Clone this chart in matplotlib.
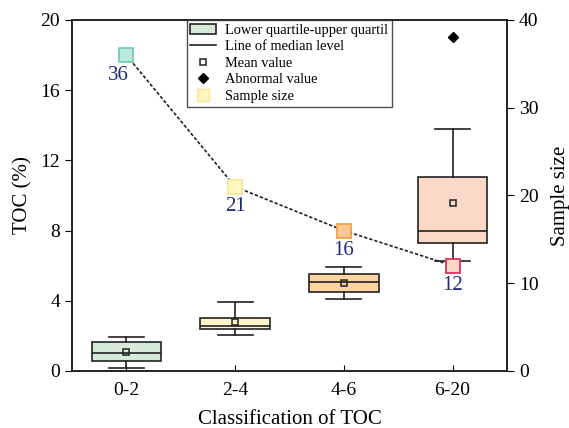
import matplotlib
matplotlib.use("Agg")
import matplotlib.pyplot as plt
from matplotlib.patches import Patch
from matplotlib.lines import Line2D

plt.rcParams['font.family'] = ['Liberation Serif', 'DejaVu Serif']

categories = ["0-2", "2-4", "4-6", "6-20"]
whisker_low = [0.17, 2.03, 4.08, 6.28]
q1 = [0.57, 2.39, 4.48, 7.28]
medians = [1.0, 2.58, 5.05, 7.99]
q3 = [1.63, 3.04, 5.53, 11.07]
whisker_high = [1.96, 3.93, 5.91, 13.77]
means = [1.08, 2.81, 5.0, 9.59]
outliers = [[], [], [], [19.05]]
sample_size = [36, 21, 16, 12]

box_colors = ["#d6ead8", "#fff4cc", "#fdd4a0", "#fad9c8"]
marker_fill = ["#b9e9dd", "#fff6c2", "#fcc890", "#fbd8c8"]
marker_edge = ["#76cbbb", "#f5e89a", "#f0a050", "#e03060"]

fig = plt.figure(figsize=(5.69, 4.28), dpi=100)
ax = fig.add_axes([0.1265, 0.1332, 0.7645, 0.8201])

positions = list(range(1, len(categories) + 1))
stats = []
for i in range(len(categories)):
    stats.append(dict(whislo=whisker_low[i], q1=q1[i], med=medians[i], q3=q3[i],
                      whishi=whisker_high[i], mean=means[i], fliers=outliers[i]))

bp = ax.bxp(stats, positions=positions, widths=0.64, patch_artist=True, showmeans=True,
            boxprops=dict(edgecolor='#222222', linewidth=1.2),
            medianprops=dict(color='#222222', linewidth=1.2),
            whiskerprops=dict(color='#222222', linewidth=1.2),
            capprops=dict(color='#222222', linewidth=1.2),
            capwidths=0.32,
            meanprops=dict(marker='s', markerfacecolor='none', markeredgecolor='#222222',
                           markersize=5, markeredgewidth=1.1),
            flierprops=dict(marker='D', markerfacecolor='black', markeredgecolor='black',
                            markersize=5.5))
for patch, c in zip(bp['boxes'], box_colors):
    patch.set_facecolor(c)

ax.set_xlim(0.5, 4.5)
ax.set_ylim(0, 20)
ax.set_yticks([0, 4, 8, 12, 16, 20])
ax.set_xticks(positions)
ax.set_xticklabels(categories)
ax.tick_params(axis='x', direction='in', labelsize=14, length=4, pad=8)
ax.tick_params(axis='y', direction='out', labelsize=14, length=5)
ax.set_xlabel("Classification of TOC", fontsize=15, labelpad=8)
ax.set_ylabel("TOC (%)", fontsize=15, labelpad=6)

ax2 = ax.twinx()
ax2.set_ylim(0, 40)
ax2.set_yticks([0, 10, 20, 30, 40])
ax2.tick_params(axis='y', direction='out', labelsize=14, length=5)
ax2.set_ylabel("Sample size", fontsize=15, labelpad=9)
ax2.plot(positions, sample_size, linestyle=(0, (2, 1.2)), color='#222222', linewidth=1.2, zorder=2)
for i, (x, n) in enumerate(zip(positions, sample_size)):
    ax2.plot(x, n, marker='s', markersize=9.5, markerfacecolor=marker_fill[i],
             markeredgecolor=marker_edge[i], markeredgewidth=1.3, zorder=3, linestyle='none')
    dx = -6 if i == 0 else 0
    ax2.annotate(str(n), (x, n), xytext=(dx, -14.5), textcoords='offset points',
                 ha='center', va='center', fontsize=15, color='#1f2a7a')

for a in (ax, ax2):
    for s in a.spines.values():
        s.set_linewidth(1.2)
        s.set_color('#222222')

handles = [Patch(facecolor=box_colors[0], edgecolor='#222222', linewidth=1.2),
           Line2D([], [], color='#222222', linewidth=1.2),
           Line2D([], [], marker='s', linestyle='none', markerfacecolor='none',
                  markeredgecolor='#222222', markersize=5, markeredgewidth=1.1),
           Line2D([], [], marker='D', linestyle='none', color='black', markersize=5),
           Line2D([], [], marker='s', linestyle='none', markerfacecolor='#fff6c2',
                  markeredgecolor='#f5e89a', markersize=8)]
labels = ["Lower quartile-upper quartil", "Line of median level", "Mean value",
          "Abnormal value", "Sample size"]
leg = ax2.legend(handles, labels, loc='upper left', bbox_to_anchor=(0.264, 1.0),
                 borderaxespad=0, fontsize=10.4, frameon=True, fancybox=False,
                 handlelength=1.8, handletextpad=0.6, labelspacing=0.24, borderpad=0.25)
leg.get_frame().set_edgecolor('#222222')
leg.get_frame().set_linewidth(1.0)

fig.savefig("out.png", dpi=100)
